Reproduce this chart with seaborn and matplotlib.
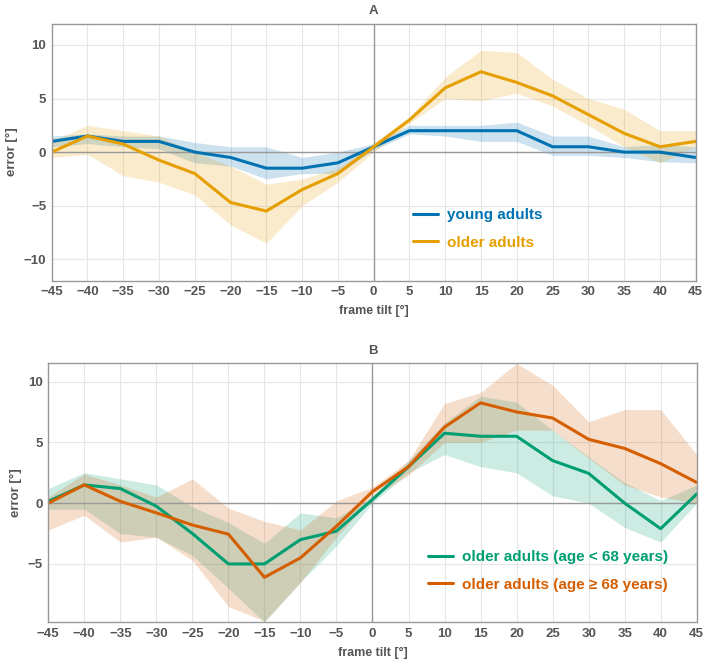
import numpy as np
import pandas as pd
import matplotlib
matplotlib.use('Agg')
import matplotlib.pyplot as plt
import seaborn as sns

# frame tilt in degrees
tilt = list(range(-45, 50, 5))

# panel A: young vs older adults (mean and band)
young = [1.0, 1.5, 1.0, 1.0, 0.0, -0.5, -1.5, -1.5, -1.0, 0.5, 2.0, 2.0, 2.0, 2.0, 0.5, 0.5, 0.0, 0.0, -0.5]
young_lo = [0.5, 0.8, 0.5, 0.3, -1.0, -1.3, -2.5, -2.0, -2.0, 0.2, 1.7, 1.5, 1.0, 1.0, -0.3, -0.3, -0.5, -0.9, -1.0]
young_hi = [1.5, 1.7, 1.5, 1.5, 0.9, 0.5, 0.5, -0.5, 0.0, 0.8, 2.5, 2.5, 2.5, 2.8, 1.5, 1.5, 0.5, 0.7, 0.5]
older = [0.0, 1.5, 0.75, -0.75, -2.0, -4.7, -5.5, -3.5, -2.0, 0.5, 3.0, 6.0, 7.5, 6.5, 5.25, 3.5, 1.75, 0.5, 1.0]
older_lo = [-0.5, -0.2, -2.2, -2.8, -4.0, -6.8, -8.5, -5.0, -2.8, 0.0, 2.7, 5.0, 4.8, 5.5, 4.3, 2.5, 0.5, -1.0, 0.5]
older_hi = [1.0, 2.5, 2.0, 1.5, 0.0, -1.3, -3.0, -2.5, -1.5, 0.8, 3.3, 7.0, 9.5, 9.3, 6.8, 5.0, 4.0, 2.0, 2.0]

# panel B: older adults split by age
lt68 = [0.15, 1.5, 1.2, -0.25, -2.5, -5.0, -5.0, -3.0, -2.3, 0.3, 3.0, 5.75, 5.5, 5.5, 3.5, 2.45, 0.0, -2.1, 0.75]
lt68_lo = [-0.5, -0.5, -2.5, -2.8, -4.3, -7.0, -9.8, -6.5, -3.5, 0.0, 2.5, 4.0, 3.0, 2.5, 0.6, 0.0, -2.0, -3.2, 0.0]
lt68_hi = [1.2, 2.5, 2.0, 1.5, -0.3, -1.6, -3.3, -0.8, -1.2, 0.5, 3.5, 6.6, 8.8, 8.3, 6.0, 3.8, 1.7, 0.2, 1.5]
ge68 = [0.0, 1.5, 0.15, -0.8, -1.8, -2.55, -6.1, -4.5, -1.9, 0.95, 3.0, 6.25, 8.25, 7.5, 7.0, 5.25, 4.5, 3.25, 1.7]
ge68_lo = [-2.2, -1.0, -3.2, -2.8, -4.7, -8.5, -9.7, -6.5, -2.8, 0.5, 2.3, 5.0, 5.0, 6.0, 6.0, 3.7, 1.5, 0.5, 0.0]
ge68_hi = [0.5, 2.4, 1.5, 0.5, 2.0, -0.4, -1.5, -2.2, 0.2, 1.3, 3.5, 8.2, 9.1, 11.5, 9.7, 6.7, 7.7, 7.7, 4.0]

sns.set_theme(style='white')
plt.rcParams['font.family'] = ['Liberation Sans', 'DejaVu Sans']

GRAY = '#555555'

fig = plt.figure(figsize=(7.08, 6.66), dpi=100)
axA = fig.add_axes([0.073, 0.5785, 0.9096, 0.3862])
axB = fig.add_axes([0.0682, 0.0656, 0.9158, 0.3889])


def draw(ax, series, ylim, yticks, title, leg_anchor):
    for label, mean, lo, hi, color in series:
        df = pd.DataFrame({'tilt': tilt, 'err': mean})
        ax.fill_between(tilt, lo, hi, color=color, alpha=0.2, lw=0)
        sns.lineplot(data=df, x='tilt', y='err', ax=ax, color=color, lw=2.2, label=label)
    ax.axhline(0, color='#999999', lw=1, zorder=1)
    ax.axvline(0, color='#999999', lw=1, zorder=1)
    ax.set_xlim(-45, 45)
    ax.set_ylim(*ylim)
    ax.set_xticks(tilt)
    ax.set_yticks(yticks)
    ax.grid(True, color='#e6e6e6', lw=0.8)
    ax.set_axisbelow(True)
    for sp in ax.spines.values():
        sp.set_color('#999999')
        sp.set_linewidth(1)
    ax.tick_params(direction='in', length=3, width=0.8, color='#999999',
                   labelsize=9.5, labelcolor=GRAY, pad=4)
    for t in ax.get_xticklabels() + ax.get_yticklabels():
        t.set_fontweight('bold')
    ax.set_xlabel('frame tilt [°]', fontsize=9, fontweight='bold', color=GRAY, labelpad=5)
    ax.set_ylabel('error [°]', fontsize=9.5, fontweight='bold', color=GRAY, labelpad=4)
    ax.set_title(title, fontsize=9.5, fontweight='bold', color=GRAY, pad=7)
    ax.legend(loc='upper left', bbox_to_anchor=leg_anchor, frameon=False,
              labelcolor='linecolor', handlelength=1.63, handletextpad=0.6,
              borderaxespad=0, borderpad=0, labelspacing=0.88,
              prop={'size': 11, 'weight': 'bold'})


draw(axA,
     [('young adults', young, young_lo, young_hi, '#0072B2'),
      ('older adults', older, older_lo, older_hi, '#E69F00')],
     (-12, 12), [-10, -5, 0, 5, 10], 'A', (0.561, 0.282))

draw(axB,
     [('older adults (age < 68 years)', lt68, lt68_lo, lt68_hi, '#009E73'),
      ('older adults (age ≥ 68 years)', ge68, ge68_lo, ge68_hi, '#D55E00')],
     (-9.8, 11.5), [-5, 0, 5, 10], 'B', (0.5856, 0.278))

fig.savefig('out.png', dpi=100)
